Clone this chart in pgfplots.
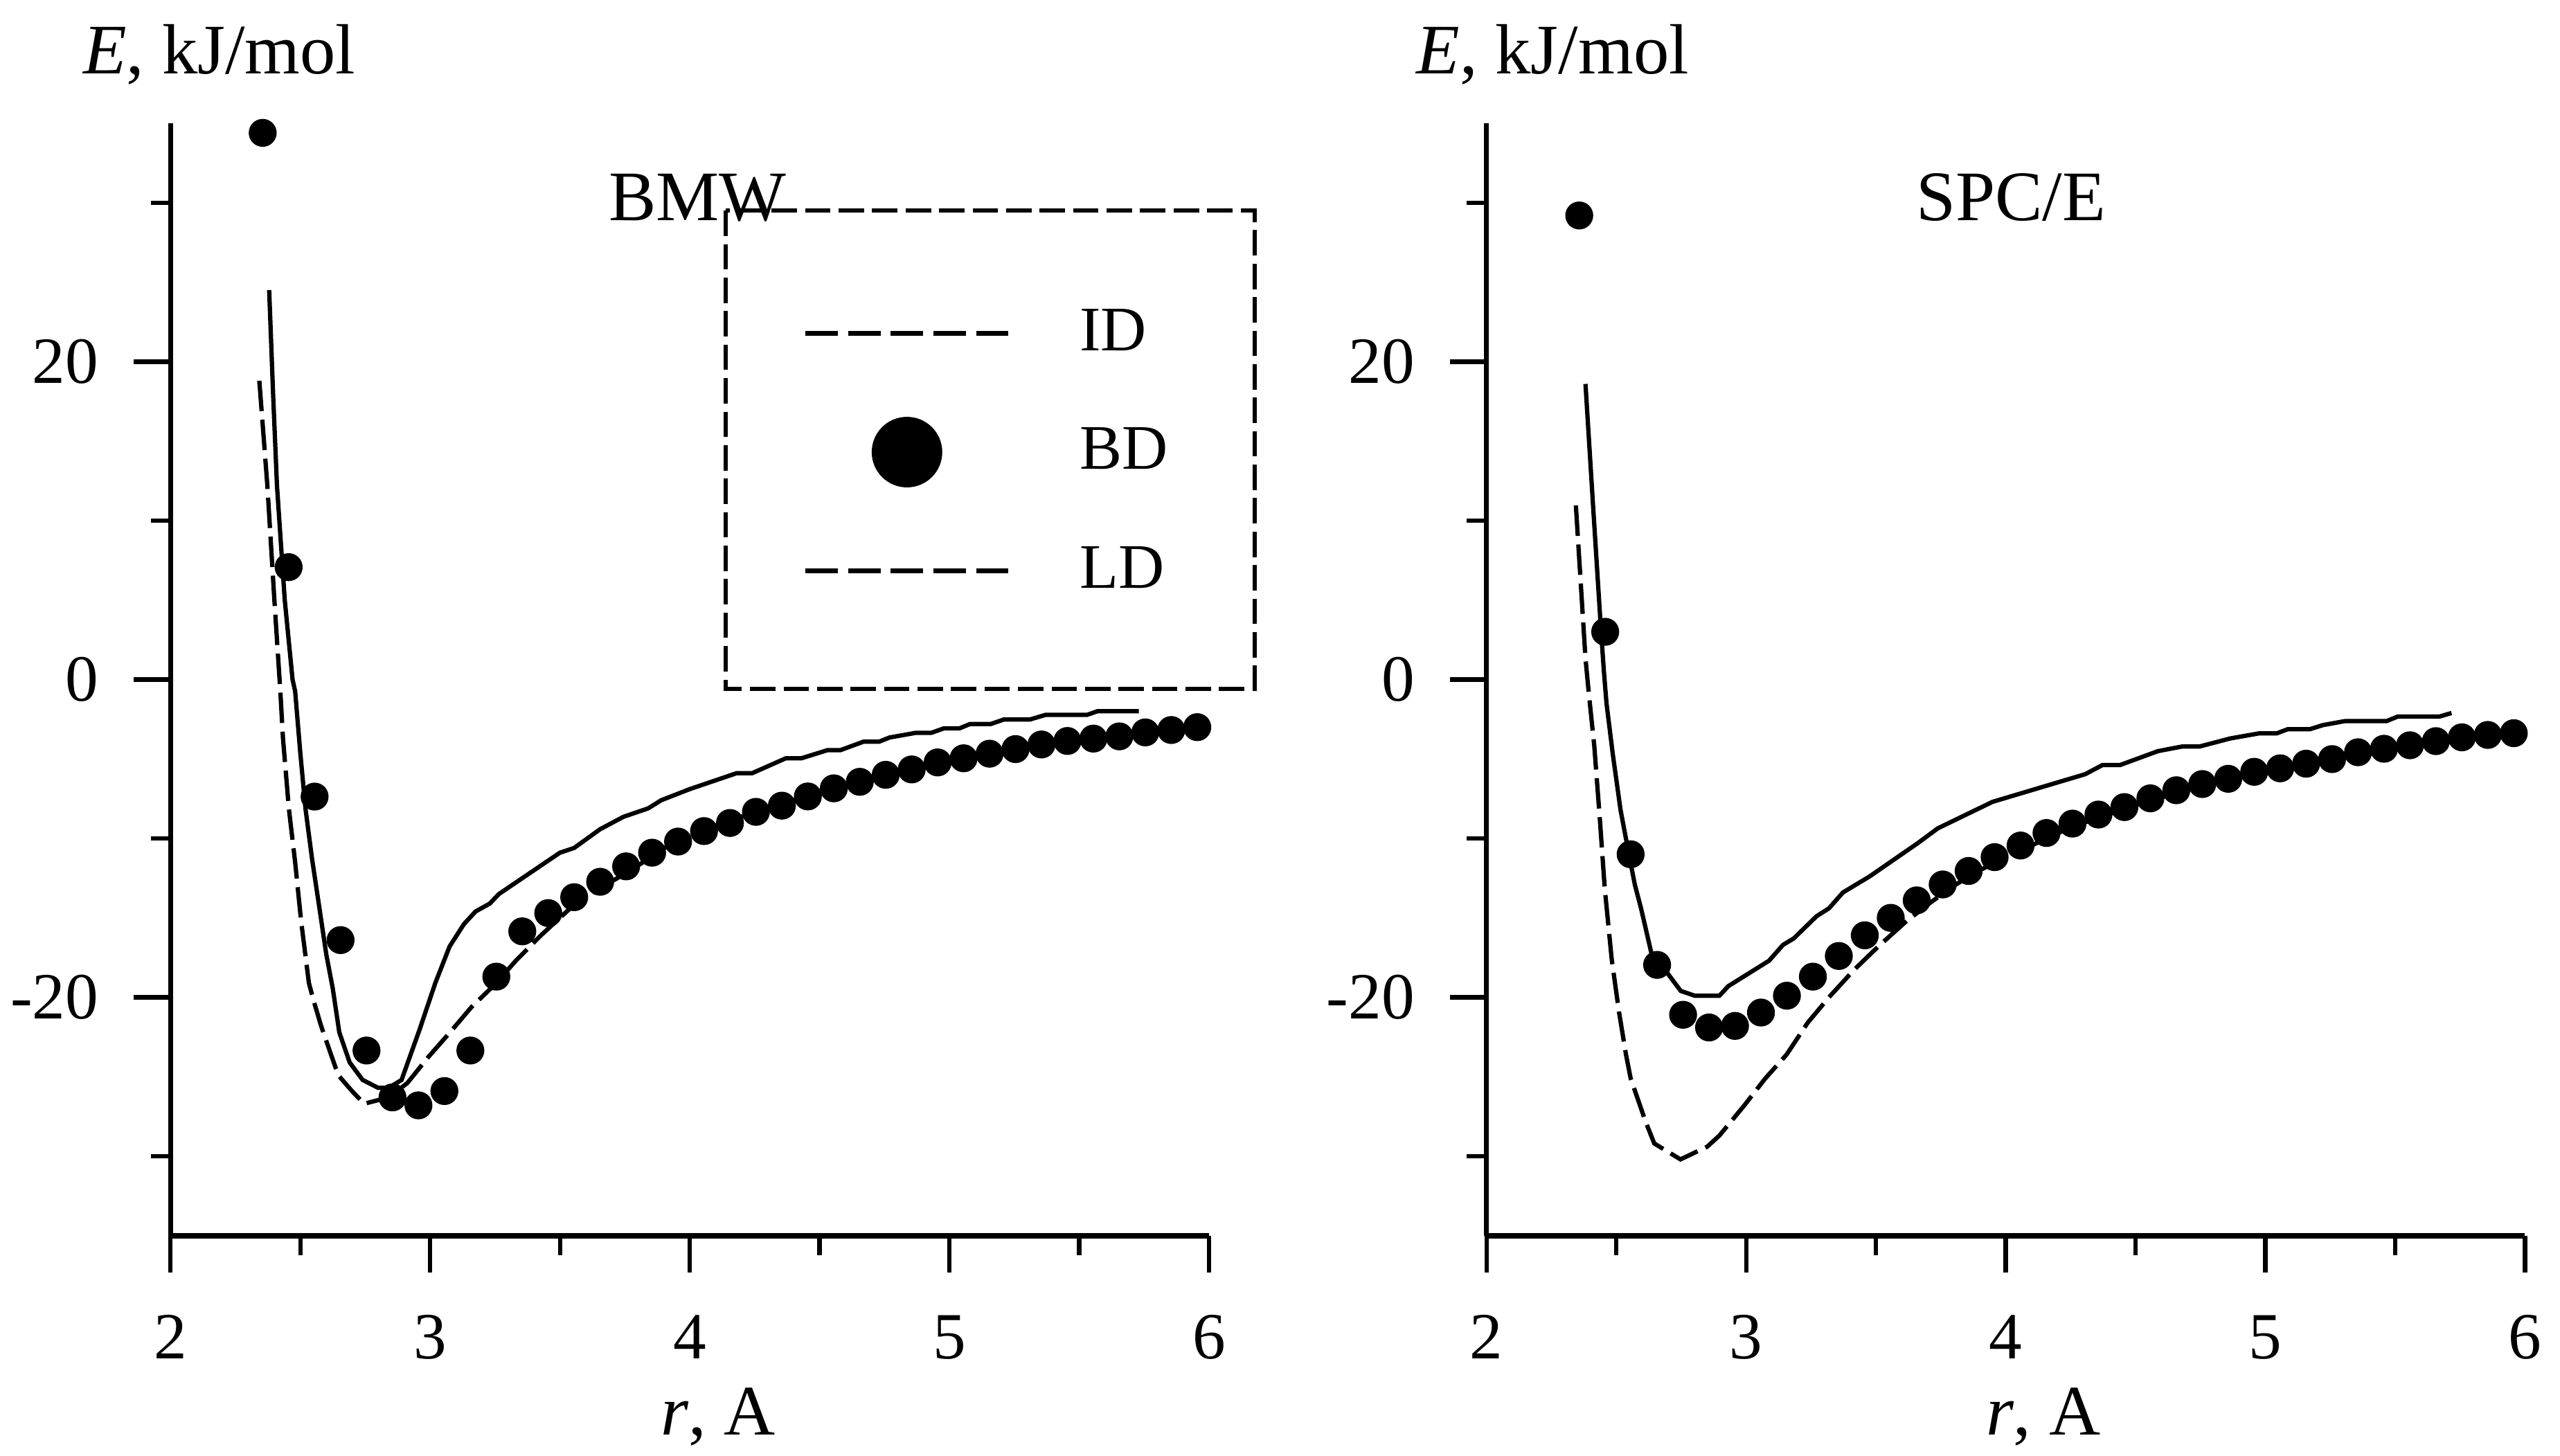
\documentclass[border=0pt]{standalone}
\usepackage{fontspec}
\setmainfont{Liberation Serif}
\usepackage{pgfplots}
\pgfplotsset{compat=1.18}

\pgfplotsset{
  myaxis/.style={
    scale only axis, width=204.6pt, height=219.2pt,
    xmin=2, xmax=6, ymin=-35, ymax=35,
    axis lines=left, axis line style={-, line width=0.95pt},
    x axis line style={line width=1.1pt},
    xtick={2,3,4,5,6}, minor xtick={2.5,3.5,4.5,5.5},
    ytick={-20,0,20}, minor ytick={-30,-10,10,30},
    xticklabels={2,3,4,5,6}, yticklabels={-20,0,20},
    tick align=outside,
    major tick length=7.2pt, minor tick length=3.9pt,
    every tick/.style={black, line width=0.85pt},
    tick label style={font=\fontsize{13}{15}\selectfont, inner sep=0pt},
    xticklabel style={anchor=base, yshift=-17.1pt},
    yticklabel style={anchor=east, xshift=-6.8pt},
    clip=false,
  },
  idstyle/.style={black, line width=0.85pt, no marks},
  ldstyle/.style={black, line width=0.85pt, no marks, dash pattern=on 6pt off 1.7pt},
  bdstyle/.style={black, only marks, mark=*, mark size=2.55pt},
}

\begin{document}
\begin{tikzpicture}
\useasboundingbox (0,0) rectangle (504.4pt,286.9pt);

% ---------------- BMW ----------------
\begin{axis}[myaxis, at={(33.6pt,43.4pt)}, anchor=south west,
  legend cell align=left,
  legend style={draw=none, fill=none, at={(axis cs:4.442,24.4)}, anchor=north west,
    inner sep=0pt, row sep=7.4pt, column sep=12pt,
    font=\fontsize{12.5}{14}\selectfont, nodes={inner sep=2pt}},
]
\addlegendimage{legend image code/.code={\path[draw=none, fill=none, use as bounding box] (0pt,-8pt) rectangle (40pt,8pt);
  \draw[black, line width=0.9pt, dash pattern=on 6.4pt off 2pt] (0pt,0pt) -- (40pt,0pt);}}
\addlegendentry{ID}
\addlegendimage{legend image code/.code={\path[draw=none, fill=none, use as bounding box] (0pt,-8pt) rectangle (40pt,8pt);
  \fill[black] (20pt,0pt) circle (6.75pt);}}
\addlegendentry{BD}
\addlegendimage{legend image code/.code={\path[draw=none, fill=none, use as bounding box] (0pt,-8pt) rectangle (40pt,8pt);
  \draw[black, line width=0.9pt, dash pattern=on 6.4pt off 2pt] (0pt,0pt) -- (40pt,0pt);}}
\addlegendentry{LD}

% ID (solid)
\addplot[idstyle, forget plot] coordinates {
(2.38,24.5) (2.395,18) (2.41,12.2) (2.44,5) (2.47,0) (2.48,-0.74) (2.50,-4.64)
(2.52,-8.15) (2.545,-11.27) (2.57,-14.0) (2.60,-17.3) (2.625,-19.45) (2.65,-22.2)
(2.69,-24.1) (2.74,-25.2) (2.80,-25.7) (2.84,-25.7) (2.89,-25.2) (2.96,-22.0)
(3.02,-19.1) (3.075,-16.8) (3.13,-15.4) (3.175,-14.6) (3.23,-14.1) (3.265,-13.5)
(3.50,-10.9) (3.555,-10.6) (3.655,-9.42) (3.745,-8.64) (3.84,-8.11) (3.89,-7.6)
(4.00,-6.9) (4.18,-5.9) (4.24,-5.9) (4.37,-4.96) (4.43,-4.96) (4.53,-4.45)
(4.58,-4.45) (4.67,-3.91) (4.73,-3.91) (4.77,-3.65) (4.87,-3.36) (4.93,-3.36)
(4.98,-3.07) (5.04,-3.07) (5.08,-2.8) (5.16,-2.8) (5.21,-2.52) (5.31,-2.52)
(5.37,-2.23) (5.53,-2.23) (5.57,-2.0) (5.73,-2.0)
};
% LD (dashed)
\addplot[ldstyle, forget plot] coordinates {
(2.342,18.8) (2.373,12.2) (2.40,5) (2.423,-0.74) (2.433,-3.67) (2.456,-8.15)
(2.48,-11.5) (2.503,-15.2) (2.533,-19.1) (2.551,-20.2) (2.58,-21.8) (2.616,-23.5)
(2.646,-24.9) (2.699,-25.9) (2.746,-26.7) (2.84,-26.3) (2.912,-25.4) (2.994,-23.74)
(3.077,-22.2) (3.16,-20.6) (3.249,-19.2) (3.33,-17.7) (3.427,-16.1) (3.533,-14.5)
(3.645,-13.2) (3.75,-12.24) (3.858,-11.1) (3.95,-10.1) (4.05,-9.5) (4.25,-8.35)
(4.5,-7.1) (4.75,-6.0) (5.0,-5.1) (5.25,-4.4) (5.5,-3.8) (5.75,-3.35) (5.9,-3.1)
};
% BD (dots)
\addplot[bdstyle, forget plot] coordinates {
(2.355,34.4) (2.455,7.07) (2.555,-7.37) (2.655,-16.4) (2.755,-23.35) (2.855,-26.3)
(2.955,-26.8) (3.055,-25.9) (3.155,-23.35) (3.255,-18.7) (3.355,-15.85) (3.455,-14.7)
(3.555,-13.7) (3.655,-12.73) (3.755,-11.76) (3.855,-10.9) (3.955,-10.2) (4.055,-9.54)
(4.155,-9.03) (4.255,-8.33) (4.355,-7.94) (4.455,-7.36) (4.555,-6.85) (4.655,-6.44)
(4.755,-6.0) (4.855,-5.66) (4.955,-5.22) (5.055,-4.96) (5.155,-4.67) (5.255,-4.38)
(5.355,-4.09) (5.455,-3.87) (5.555,-3.72) (5.655,-3.58) (5.755,-3.33) (5.855,-3.18)
(5.955,-3.0)
};
\draw[black, line width=0.85pt, dash pattern=on 5pt off 1.6pt]
  (axis cs:4.139,29.5) rectangle (axis cs:6.176,-0.59);
\node[anchor=base, inner sep=0pt, font=\fontsize{14}{16}\selectfont] at (axis cs:4.03,28.9) {BMW};
\end{axis}

% ---------------- SPC/E ----------------
\begin{axis}[myaxis, at={(292.9pt,43.4pt)}, anchor=south west]
% ID (solid)
\addplot[idstyle] coordinates {
(2.381,18.6) (2.41,11) (2.44,3.3) (2.452,0.5) (2.462,-1.5) (2.486,-4.67) (2.516,-8.2)
(2.546,-10.8) (2.571,-12.9) (2.595,-14.4) (2.636,-17.3) (2.693,-18.4) (2.748,-19.6)
(2.802,-19.9) (2.897,-19.9) (2.931,-19.3) (3.088,-17.7) (3.142,-16.7) (3.183,-16.3)
(3.271,-14.9) (3.319,-14.4) (3.373,-13.4) (3.475,-12.4) (3.661,-10.3) (3.738,-9.37)
(3.839,-8.57) (3.949,-7.7) (4.306,-5.96) (4.373,-5.38) (4.441,-5.38) (4.586,-4.51)
(4.679,-4.22) (4.746,-4.22) (4.865,-3.71) (4.976,-3.39) (5.044,-3.39) (5.086,-3.13)
(5.171,-3.13) (5.222,-2.87) (5.306,-2.62) (5.467,-2.62) (5.51,-2.33) (5.671,-2.33)
(5.717,-2.11)
};
% LD (dashed)
\addplot[ldstyle] coordinates {
(2.344,10.95) (2.381,1.33) (2.394,-0.9) (2.415,-4.2) (2.436,-8.7) (2.455,-13.1)
(2.482,-17.6) (2.51,-20.9) (2.537,-23.6) (2.555,-25.1) (2.612,-27.8) (2.646,-29.2)
(2.747,-30.2) (2.85,-29.4) (2.897,-28.7) (2.993,-26.8) (3.074,-25.1) (3.156,-23.6)
(3.237,-21.6) (3.319,-20.0) (3.414,-18.3) (3.509,-16.8) (3.618,-15.2) (3.713,-14.0)
(3.808,-12.9) (3.9,-12.0) (4.0,-11.2) (4.25,-9.3) (4.5,-7.9) (4.75,-6.7) (5.0,-5.8)
(5.25,-5.1) (5.5,-4.4) (5.75,-3.8) (5.9,-3.5)
};
% BD (dots)
\addplot[bdstyle] coordinates {
(2.357,29.2) (2.457,3.0) (2.555,-11.0) (2.657,-17.96) (2.757,-21.1) (2.857,-21.9)
(2.957,-21.8) (3.057,-20.96) (3.157,-19.9) (3.257,-18.7) (3.357,-17.4) (3.457,-16.1)
(3.557,-15.0) (3.657,-13.9) (3.757,-12.9) (3.857,-12.05) (3.957,-11.18) (4.057,-10.45)
(4.157,-9.66) (4.257,-9.07) (4.357,-8.5) (4.457,-8.03) (4.557,-7.48) (4.657,-6.97)
(4.757,-6.58) (4.857,-6.25) (4.957,-5.81) (5.057,-5.59) (5.157,-5.30) (5.257,-5.01)
(5.357,-4.58) (5.457,-4.36) (5.557,-4.14) (5.657,-3.88) (5.757,-3.64) (5.857,-3.49)
(5.957,-3.38)
};
\node[anchor=base, inner sep=0pt, font=\fontsize{14}{16}\selectfont] at (axis cs:4.02,28.9) {SPC/E};
\end{axis}

% axis titles
\node[anchor=base west, inner sep=0pt, font=\fontsize{14}{16}\selectfont] at (16.2pt,272.3pt) {\textit{E}, kJ/mol};
\node[anchor=base west, inner sep=0pt, font=\fontsize{14}{16}\selectfont] at (278.9pt,272.3pt) {\textit{E}, kJ/mol};
\node[anchor=base west, inner sep=0pt, font=\fontsize{14}{16}\selectfont] at (130.0pt,4.2pt) {\textit{r}, A};
\node[anchor=base west, inner sep=0pt, font=\fontsize{14}{16}\selectfont] at (391.1pt,4.2pt) {\textit{r}, A};
\end{tikzpicture}
\end{document}
